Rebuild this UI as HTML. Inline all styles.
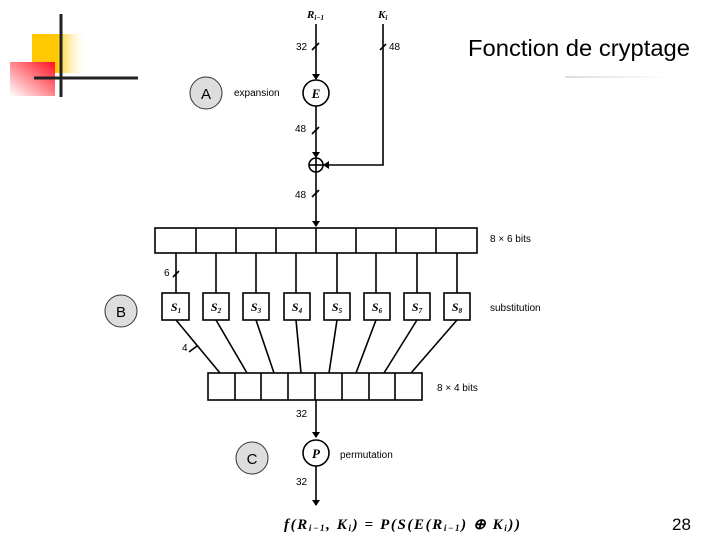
<!DOCTYPE html>
<html><head><style>
body{margin:0;background:#fff;width:720px;height:540px;overflow:hidden;position:relative;font-family:"Liberation Sans",sans-serif}
</style></head><body>
<svg width="720" height="540" viewBox="0 0 720 540" style="position:absolute;left:0;top:0">
<defs>
<linearGradient id="yg" x1="0" x2="1" y1="0" y2="0"><stop offset="0.45" stop-color="#ffc800"/><stop offset="1" stop-color="#fff" stop-opacity="0"/></linearGradient>
<linearGradient id="rg" x1="1" y1="0" x2="0" y2="1"><stop offset="0" stop-color="#ff1020"/><stop offset="1" stop-color="#fff"/></linearGradient>
<linearGradient id="ug" x1="0" x2="1"><stop offset="0" stop-color="#ddd"/><stop offset="1" stop-color="#fff"/></linearGradient>
<marker id="ar" markerWidth="6" markerHeight="8" refX="5" refY="4" orient="auto" markerUnits="userSpaceOnUse"><path d="M0,0 L6,4 L0,8z" fill="#000"/></marker>
</defs>
<rect x="32" y="34" width="55" height="39" fill="url(#yg)"/>
<rect x="10" y="62" width="45" height="34" fill="url(#rg)"/>
<line x1="61" y1="14" x2="61" y2="97" stroke="#222" stroke-width="3"/>
<line x1="34" y1="78" x2="138" y2="78" stroke="#222" stroke-width="3"/>
<rect x="565" y="76" width="105" height="2" fill="url(#ug)"/>
<text x="468" y="56" font-size="23" fill="#000" textLength="222" lengthAdjust="spacingAndGlyphs">Fonction de cryptage</text>
<text x="672" y="530" font-size="17">28</text>

<g stroke="#000" stroke-width="1.6" fill="none">
<line x1="316" y1="24" x2="316" y2="79" marker-end="url(#ar)"/>
<line x1="316" y1="106" x2="316" y2="157" marker-end="url(#ar)"/>
<line x1="316" y1="172" x2="316" y2="226" marker-end="url(#ar)"/>
<polyline points="383,24 383,165 324,165" marker-end="url(#ar)"/>
<circle cx="316" cy="93" r="13"/>
<circle cx="316" cy="165" r="7"/>
<line x1="309" y1="165" x2="323" y2="165"/><line x1="316" y1="158" x2="316" y2="172"/>
<rect x="155" y="228" width="322" height="25"/>
<path d="M196,228v25M236,228v25M276,228v25M316,228v25M356,228v25M396,228v25M436,228v25"/>
<path d="M176,253v40M216,253v40M256,253v40M296,253v40M337,253v40M376,253v40M417,253v40M457,253v40"/>
<rect x="162" y="293" width="27" height="27"/><rect x="203" y="293" width="26" height="27"/>
<rect x="243" y="293" width="26" height="27"/><rect x="284" y="293" width="26" height="27"/>
<rect x="324" y="293" width="26" height="27"/><rect x="364" y="293" width="26" height="27"/>
<rect x="404" y="293" width="26" height="27"/><rect x="444" y="293" width="26" height="27"/>
<path d="M176,320L220,373M216,320L247,373M256,320L274,373M296,320L301,373M337,320L329,373M376,320L356,373M417,320L384,373M457,320L411,373"/>
<rect x="208" y="373" width="214" height="27"/>
<path d="M235,373v27M261,373v27M288,373v27M315,373v27M342,373v27M369,373v27M395,373v27"/>
<line x1="316" y1="400" x2="316" y2="437" marker-end="url(#ar)"/>
<circle cx="316" cy="453" r="13"/>
<line x1="316" y1="466" x2="316" y2="505" marker-end="url(#ar)"/>
<path d="M312,50l7,-7M380,50l6,-6M312,134l7,-7M312,197l7,-7M173,277l6,-6M189,352l8,-6"/>
</g>
<g fill="#ddd" stroke="#333" stroke-width="1">
<circle cx="206" cy="93" r="16"/><circle cx="121" cy="311" r="16"/><circle cx="252" cy="458" r="16"/>
</g>
<g font-size="15" text-anchor="middle"><text x="206" y="99">A</text><text x="121" y="317">B</text><text x="252" y="464">C</text></g>
<g font-family="Liberation Sans" font-size="10" fill="#000">
<text x="296" y="50">32</text><text x="389" y="50">48</text>
<text x="295" y="132">48</text><text x="295" y="198">48</text>
<text x="164" y="276">6</text><text x="182" y="351">4</text>
<text x="296" y="417">32</text><text x="296" y="485">32</text>
<text x="234" y="96">expansion</text>
<text x="490" y="242">8 × 6 bits</text>
<text x="490" y="311">substitution</text>
<text x="437" y="391">8 × 4 bits</text>
<text x="340" y="458">permutation</text>
</g>
<g font-family="Liberation Serif" font-style="italic" font-weight="bold" fill="#000">
<text x="307" y="18" font-size="11">R<tspan font-size="7" dy="2">i−1</tspan></text>
<text x="378" y="18" font-size="11">K<tspan font-size="7" dy="2">i</tspan></text>
<text x="316" y="98" font-size="13" text-anchor="middle">E</text>
<text x="316" y="458" font-size="13" text-anchor="middle">P</text>
<g font-size="12" text-anchor="middle">
<text x="176" y="311">S<tspan font-size="7" dy="2">1</tspan></text><text x="216" y="311">S<tspan font-size="7" dy="2">2</tspan></text>
<text x="256" y="311">S<tspan font-size="7" dy="2">3</tspan></text><text x="297" y="311">S<tspan font-size="7" dy="2">4</tspan></text>
<text x="337" y="311">S<tspan font-size="7" dy="2">5</tspan></text><text x="377" y="311">S<tspan font-size="7" dy="2">6</tspan></text>
<text x="417" y="311">S<tspan font-size="7" dy="2">7</tspan></text><text x="457" y="311">S<tspan font-size="7" dy="2">8</tspan></text>
</g>
<text x="284" y="529" font-size="15" textLength="236" lengthAdjust="spacing">f(R<tspan font-size="9" dy="2">i−1</tspan><tspan dy="-2">, K</tspan><tspan font-size="9" dy="2">i</tspan><tspan dy="-2">) = P(S(E(R</tspan><tspan font-size="9" dy="2">i−1</tspan><tspan dy="-2">) ⊕ K</tspan><tspan font-size="9" dy="2">i</tspan><tspan dy="-2">))</tspan></text>
</g>
</svg>
</body></html>
